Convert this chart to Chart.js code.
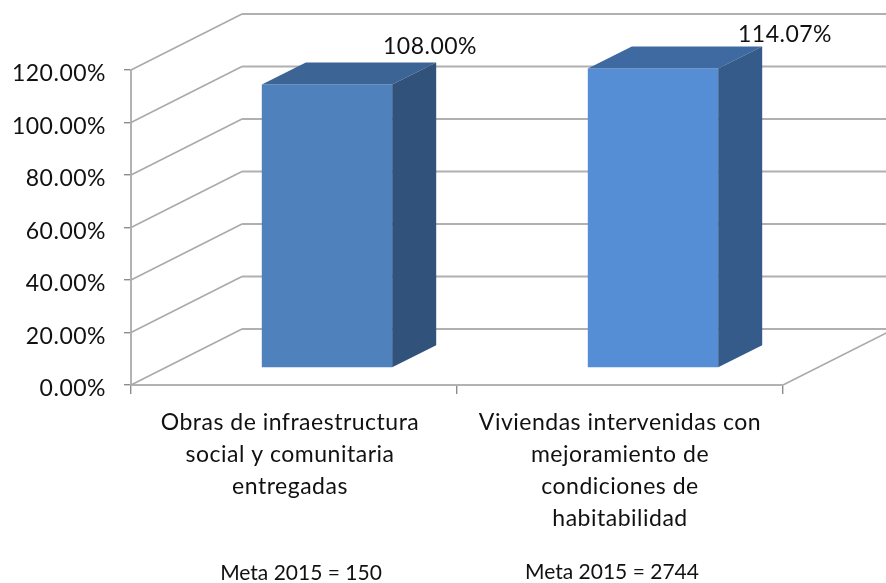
<!DOCTYPE html>
<html>
<head>
<meta charset="utf-8">
<script src="https://cdn.jsdelivr.net/npm/chart.js@4"></script>
<style>
  html, body { margin: 0; padding: 0; background: #fff; }
  #wrap { width: 886px; height: 583px; overflow: hidden; }
  #chart { filter: blur(0.5px); }
</style>
</head>
<body>
<div id="wrap"><canvas id="chart" width="886" height="583"></canvas></div>
<script>
const categories = [
  ['Obras de infraestructura', 'social y comunitaria', 'entregadas'],
  ['Viviendas intervenidas con', 'mejoramiento de', 'condiciones de', 'habitabilidad']
]
const percentValues = [108.00, 114.07]
const metaLabels = ['Meta 2015 = 150', 'Meta 2015 = 2744']
const frontColors = ['#4f81bd', '#558ed5']
const topColors = ['#3c6495', '#3e6aa1']
const sideColors = ['#31527b', '#355b8a']

const FONT = 'Lato, Carlito, sans-serif'
// depth of the side wall and of the box, in pixels
const WALL_DX = 111
const WALL_DY = 56
const BAR_DX = 44
const BAR_DY = 22
// the box stands about 30% into the floor
const SHIFT_X = 33
const SHIFT_Y = 17
const LABEL_NUDGE = [[136, -55], [165, -51]]
const META_POS = [[301, 573], [612, 572]]
const X_LABEL_NUDGE = [-4, 0]

const walls = {
  id: 'walls',
  beforeDraw(chart) {
    // the source text is spaced wider than the font
    chart.ctx.letterSpacing = '0.5px'
    const items = chart.scales.x.getLabelItems()
    items.forEach((item, i) => {
      if (!item.nudged) {
        item.options.translation[0] += X_LABEL_NUDGE[i]
        item.nudged = true
      }
    })
  },
  beforeDatasetsDraw(chart) {
    const ctx = chart.ctx
    const y = chart.scales.y
    const area = chart.chartArea
    ctx.save()
    y.ticks.forEach(t => {
      const py = y.getPixelForValue(t.value)
      ctx.strokeStyle = '#a9a9a9'
      ctx.lineWidth = 1.5
      ctx.beginPath()
      ctx.moveTo(area.left, py)
      ctx.lineTo(area.left + WALL_DX, py - WALL_DY)
      ctx.stroke()
      ctx.strokeStyle = '#b0b0b0'
      ctx.lineWidth = 2
      ctx.beginPath()
      ctx.moveTo(area.left + WALL_DX, py - WALL_DY)
      ctx.lineTo(area.right + WALL_DX, py - WALL_DY)
      ctx.stroke()
    })
    // floor edge on the right
    ctx.strokeStyle = '#a9a9a9'
    ctx.lineWidth = 1.5
    ctx.beginPath()
    ctx.moveTo(area.right, area.bottom)
    ctx.lineTo(area.right + WALL_DX, area.bottom - WALL_DY)
    ctx.stroke()
    ctx.restore()
  }
}

const boxes = {
  id: 'boxes',
  beforeDatasetDraw(chart) {
    chart.ctx.save()
    chart.ctx.translate(SHIFT_X, -SHIFT_Y)
  },
  afterDatasetDraw(chart, args) {
    const ctx = chart.ctx
    args.meta.data.forEach((bar, i) => {
      const x0 = bar.x - bar.width / 2
      const x1 = bar.x + bar.width / 2
      ctx.fillStyle = topColors[i]
      ctx.beginPath()
      ctx.moveTo(x0, bar.y)
      ctx.lineTo(x0 + BAR_DX, bar.y - BAR_DY)
      ctx.lineTo(x1 + BAR_DX, bar.y - BAR_DY)
      ctx.lineTo(x1, bar.y)
      ctx.closePath()
      ctx.fill()
      ctx.fillStyle = sideColors[i]
      ctx.beginPath()
      ctx.moveTo(x1, bar.y)
      ctx.lineTo(x1 + BAR_DX, bar.y - BAR_DY)
      ctx.lineTo(x1 + BAR_DX, bar.base - BAR_DY)
      ctx.lineTo(x1, bar.base)
      ctx.closePath()
      ctx.fill()
    })
    ctx.restore()
  },
  afterDatasetsDraw(chart) {
    const ctx = chart.ctx
    const bars = chart.getDatasetMeta(0).data
    ctx.save()
    ctx.fillStyle = '#111'
    ctx.textAlign = 'center'
    ctx.textBaseline = 'middle'
    ctx.font = '23px ' + FONT
    bars.forEach((bar, i) => {
      ctx.fillText(percentValues[i].toFixed(2) + '%', bar.x + LABEL_NUDGE[i][0], bar.y + LABEL_NUDGE[i][1])
    })
    ctx.letterSpacing = '0px'
    ctx.font = '21px ' + FONT
    metaLabels.forEach((m, i) => {
      ctx.fillText(m, META_POS[i][0], META_POS[i][1])
    })
    ctx.restore()
  }
}

new Chart(document.querySelector('#chart'), {
  type: 'bar',
  data: {
    labels: categories,
    datasets: [{
      data: percentValues,
      backgroundColor: frontColors,
      barPercentage: 0.4,
      categoryPercentage: 1
    }]
  },
  plugins: [walls, boxes],
  options: {
    responsive: false,
    animation: false,
    layout: { padding: { top: 70, right: 103, left: 0, bottom: 0 } },
    plugins: { legend: { display: false }, tooltip: { enabled: false } },
    scales: {
      x: {
        afterFit: scale => { scale.height = 198 },
        grid: { drawOnChartArea: false, tickLength: 9, color: '#8c8c8c', lineWidth: 1.4 },
        border: { color: '#b2b2b2', width: 2 },
        ticks: {
          maxRotation: 0, autoSkip: false, padding: 13, color: '#111',
          font: { family: FONT, size: 23, lineHeight: 1.39 }
        }
      },
      y: {
        min: 0,
        max: 120,
        afterFit: scale => { scale.width = 131 },
        grid: { drawOnChartArea: false, tickLength: 7, color: '#8c8c8c', lineWidth: 1.4 },
        border: { color: '#b2b2b2', width: 2 },
        ticks: {
          stepSize: 20, padding: 18, labelOffset: 4, color: '#111',
          font: { family: FONT, size: 23 },
          callback: v => v.toFixed(2) + '%'
        }
      }
    }
  }
})
</script>
</body>
</html>
